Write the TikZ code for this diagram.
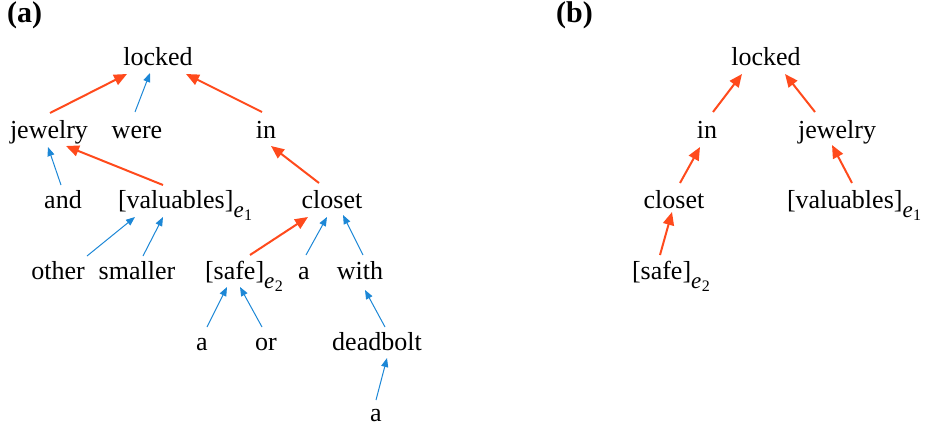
\documentclass[tikz,border=0pt]{standalone}
\usepackage{fontspec}
\setmainfont{Liberation Serif}
\usetikzlibrary{arrows.meta}
\definecolor{ored}{HTML}{FF4A1C}
\definecolor{dblue}{HTML}{1C87D6}
\newcommand{\subE}[1]{\raisebox{-9pt}{\fontsize{23}{23}\selectfont\itshape e\kern0.5pt\raisebox{-3pt}{\fontsize{16}{16}\selectfont\upshape #1}}}
\begin{document}
\begin{tikzpicture}[x=1pt,y=-1pt,
  w/.style={inner sep=0pt,outer sep=0pt,text height=18pt,text depth=6pt,anchor=base,font=\fontsize{26}{30}\selectfont},
  wl/.style={w,anchor=base west},
  panel/.style={inner sep=0pt,anchor=base west,font=\fontsize{30}{32}\selectfont\bfseries},
  oarr/.style={draw=ored,line width=2pt,-{Triangle[length=13pt,width=11pt]}},
  barr/.style={draw=dblue,line width=1pt,-{Triangle[length=9pt,width=7pt]}}]
\useasboundingbox (0,0) rectangle (928,428);
% panel labels
\node[panel] (pa) at (7,23) {(a)};
\node[panel] (pb) at (556,23) {(b)};
% ---- panel (a) ----
\node[w] (L) at (158,65) {locked};
\node[w] (J) at (49,138) {jewelry};
\node[w] (W) at (137,138) {were};
\node[w] (I) at (266,138) {in};
\node[w] (AND) at (63,208) {and};
\node[wl] (V) at (118,208) {[valuables]\subE{1}};
\node[w] (C) at (332,208) {closet};
\node[w] (O) at (58,279) {other};
\node[w] (S) at (137,279) {smaller};
\node[wl] (SF) at (205,279) {[safe]\subE{2}};
\node[w] (A1) at (304,279) {a};
\node[w] (WI) at (360,279) {with};
\node[w] (A2) at (202,350) {a};
\node[w] (OR) at (266,350) {or};
\node[w] (D) at (377,350) {deadbolt};
\node[w] (A3) at (376,421) {a};
% arrows (a)
\draw[oarr] ([xshift=1pt,yshift=7pt]J.north) -- ([xshift=-31pt,yshift=-3pt]L.south);
\draw[barr] ([xshift=-2pt,yshift=8pt]W.north) -- ([xshift=-8pt,yshift=-2pt]L.south);
\draw[oarr] ([xshift=-4pt,yshift=8pt]I.north) -- ([xshift=28pt,yshift=-3pt]L.south);
\draw[barr] ([xshift=-2pt,yshift=5pt]AND.north) -- ([xshift=-1pt,yshift=-3pt]J.south);
\draw[oarr] ([xshift=45pt,yshift=5pt]V.north west) -- ([xshift=17pt,yshift=-2pt]J.south);
\draw[oarr] ([xshift=-13pt,yshift=7pt]C.north) -- ([xshift=5pt,yshift=-2pt]I.south);
\draw[barr] ([xshift=29pt,yshift=5pt]O.north) -- ([xshift=17pt,yshift=-3pt]V.south west);
\draw[barr] ([xshift=6pt,yshift=5pt]S.north) -- ([xshift=45pt,yshift=-3pt]V.south west);
\draw[oarr] ([xshift=45pt,yshift=6pt]SF.north west) -- ([xshift=-24pt,yshift=-3pt]C.south);
\draw[barr] ([xshift=2pt,yshift=6pt]A1.north) -- ([xshift=-5pt,yshift=-3pt]C.south);
\draw[barr] ([xshift=3pt,yshift=6pt]WI.north) -- ([xshift=11pt,yshift=-1pt]C.south);
\draw[barr] ([xshift=5pt,yshift=5pt]A2.north) -- ([xshift=22pt,yshift=-2pt]SF.south west);
\draw[barr] ([xshift=-4pt,yshift=5pt]OR.north) -- ([xshift=35pt,yshift=-2pt]SF.south west);
\draw[barr] ([xshift=8pt,yshift=5pt]D.north) -- ([xshift=5pt,yshift=-5pt]WI.south);
\draw[barr] ([xshift=0pt,yshift=3pt]A3.north) -- ([xshift=10pt,yshift=-2pt]D.south);
% ---- panel (b) ----
\node[w] (L2) at (766,65) {locked};
\node[w] (I2) at (707,138) {in};
\node[w] (J2) at (837,138) {jewelry};
\node[w] (C2) at (674,208) {closet};
\node[wl] (V2) at (787,208) {[valuables]\subE{1}};
\node[wl] (S2) at (632,279) {[safe]\subE{2}};
\draw[oarr] ([xshift=6pt,yshift=8pt]I2.north) -- ([xshift=-24pt,yshift=-3pt]L2.south);
\draw[oarr] ([xshift=-22pt,yshift=8pt]J2.north) -- ([xshift=19pt,yshift=-3pt]L2.south);
\draw[oarr] ([xshift=6pt,yshift=7pt]C2.north) -- ([xshift=-7pt,yshift=-3pt]I2.south);
\draw[oarr] ([xshift=65pt,yshift=7pt]V2.north west) -- ([xshift=-5pt,yshift=-1pt]J2.south);
\draw[oarr] ([xshift=28pt,yshift=6pt]S2.north west) -- ([xshift=-2pt,yshift=2pt]C2.south);
\end{tikzpicture}
\end{document}
